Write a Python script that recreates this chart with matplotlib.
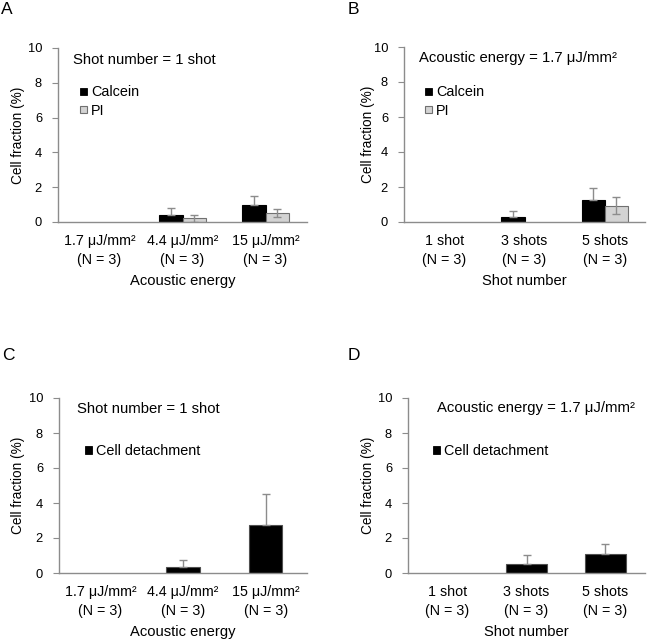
import matplotlib.pyplot as plt
from matplotlib.patches import Patch
import numpy as np

plt.rcParams['font.family'] = ['Liberation Sans', 'DejaVu Sans']

# ---- data ----
energy_labels = ['1.7 μJ/mm²\n(N = 3)', '4.4 μJ/mm²\n(N = 3)', '15 μJ/mm²\n(N = 3)']
shot_labels = ['1 shot\n(N = 3)', '3 shots\n(N = 3)', '5 shots\n(N = 3)']

a_calcein = [0, 0.40, 0.98]
a_calcein_err = [0, 0.42, 0.51]
a_pi = [0, 0.21, 0.50]
a_pi_err = [0, 0.19, 0.23]

b_calcein = [0, 0.31, 1.26]
b_calcein_err = [0, 0.34, 0.67]
b_pi = [0, 0, 0.94]
b_pi_err = [0, 0, 0.51]

c_detach = [0, 0.34, 2.77]
c_detach_err = [0, 0.39, 1.76]

d_detach = [0, 0.52, 1.09]
d_detach_err = [0, 0.53, 0.57]

GRAY_LINE = '#8c8c8c'
PI_FILL = '#d3d3d3'
PI_EDGE = '#707070'


def style_axes(ax, ticklabels, xlabel, ylab_x):
    ax.set_xlim(-0.5, 2.5)
    ax.set_ylim(0, 10)
    ax.set_yticks(np.arange(0, 11, 2))
    ax.set_xticks(range(3))
    ax.set_xticklabels(ticklabels, fontsize=10.3, linespacing=1.45)
    ax.tick_params(axis='x', length=0, pad=8.5)
    ax.tick_params(axis='y', length=4.5, color=GRAY_LINE, labelsize=9.3, pad=7)
    for s in ['top', 'right']:
        ax.spines[s].set_visible(False)
    for s in ['left', 'bottom']:
        ax.spines[s].set_color(GRAY_LINE)
        ax.spines[s].set_linewidth(1.0)
    ax.set_ylabel('Cell fraction (%)', fontsize=9.8, va='center')
    ax.yaxis.set_label_coords(ylab_x, 0.5)
    ax.set_xlabel(xlabel, fontsize=10.6, labelpad=5)


def draw_bars(ax, x, vals, errs, width, fill, edge, both):
    vals = np.asarray(vals, dtype=float)
    errs = np.asarray(errs, dtype=float)
    edges = [edge if v > 0 else 'none' for v in vals]
    ax.bar(x, vals, width, color=fill, edgecolor=edges, linewidth=0.8, zorder=2)
    keep = errs > 0
    lower = errs[keep] if both else np.zeros(keep.sum())
    ax.errorbar(x[keep], vals[keep], yerr=[lower, errs[keep]], fmt='none',
                ecolor=GRAY_LINE, elinewidth=1.0, capsize=3, capthick=1.0, zorder=3)


def two_series(ax, calcein, calcein_err, pi, pi_err, width):
    x = np.arange(3)
    draw_bars(ax, x - width / 2, calcein, calcein_err, width, 'black', 'black', False)
    draw_bars(ax, x + width / 2, pi, pi_err, width, PI_FILL, PI_EDGE, True)
    return [Patch(facecolor='black', edgecolor='black', linewidth=0.6, label='Calcein'),
            Patch(facecolor=PI_FILL, edgecolor=PI_EDGE, linewidth=0.8, label='PI')]


def one_series(ax, vals, errs, width):
    draw_bars(ax, np.arange(3), vals, errs, width, 'black', '#505050', False)
    return [Patch(facecolor='black', edgecolor='black', linewidth=0.6, label='Cell detachment')]


def add_legend(ax, handles, x, y):
    ax.legend(handles=handles, loc='upper left', bbox_to_anchor=(x, y), frameon=False,
              fontsize=10.4, handlelength=0.47, handleheight=0.42, handletextpad=0.3,
              labelspacing=0.3, borderpad=0, borderaxespad=0)


fig = plt.figure(figsize=(6.58, 6.39), dpi=100)
W, H = 658, 639


def make_axes(left, top, right, bottom):
    return fig.add_axes([left / W, 1 - bottom / H, (right - left) / W, (bottom - top) / H])


axA = make_axes(58, 48, 307, 222)
axB = make_axes(404, 47, 645, 222)
axC = make_axes(59, 398, 307, 573)
axD = make_axes(408, 398, 645, 573)

# A
h = two_series(axA, a_calcein, a_calcein_err, a_pi, a_pi_err, 0.28)
style_axes(axA, energy_labels, 'Acoustic energy', -0.161)
axA.text(0.06, 0.93, 'Shot number = 1 shot', transform=axA.transAxes,
         fontsize=10.7, va='center', ha='left')
add_legend(axA, h, 0.088, 0.785)

# B
h = two_series(axB, b_calcein, b_calcein_err, b_pi, b_pi_err, 0.29)
style_axes(axB, shot_labels, 'Shot number', -0.149)
axB.text(0.062, 0.937, 'Acoustic energy = 1.7 μJ/mm²', transform=axB.transAxes,
         fontsize=10.7, va='center', ha='left')
add_legend(axB, h, 0.087, 0.78)

# C
h = one_series(axC, c_detach, c_detach_err, 0.4)
style_axes(axC, energy_labels, 'Acoustic energy', -0.165)
axC.text(0.073, 0.937, 'Shot number = 1 shot', transform=axC.transAxes,
         fontsize=10.7, va='center', ha='left')
add_legend(axC, h, 0.105, 0.735)

# D
h = one_series(axD, d_detach, d_detach_err, 0.53)
style_axes(axD, shot_labels, 'Shot number', -0.169)
axD.text(0.122, 0.943, 'Acoustic energy = 1.7 μJ/mm²', transform=axD.transAxes,
         fontsize=10.7, va='center', ha='left')
add_legend(axD, h, 0.105, 0.735)

# panel letters
for letter, px, py in [('A', 1, 10), ('B', 348, 10), ('C', 2, 355), ('D', 348, 355)]:
    fig.text(px / W, 1 - py / H, letter, fontsize=12.5, va='center', ha='left')

fig.savefig('out.png', dpi=100)
